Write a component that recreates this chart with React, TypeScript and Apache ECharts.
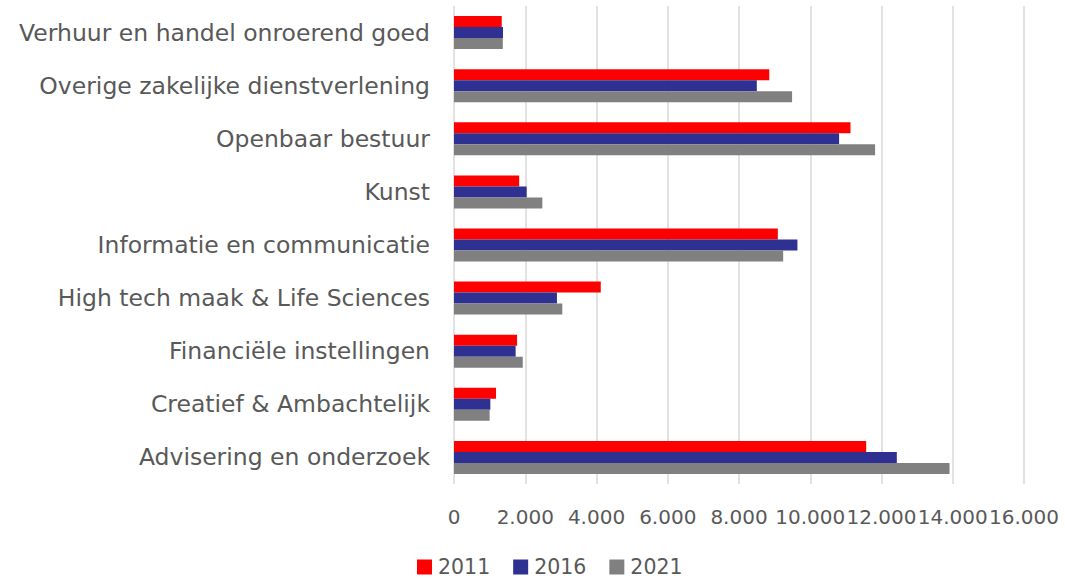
import React, { useEffect, useRef } from "react";
import * as echarts from "echarts";

const categories = [
  "Verhuur en handel onroerend goed",
  "Overige zakelijke dienstverlening",
  "Openbaar bestuur",
  "Kunst",
  "Informatie en communicatie",
  "High tech maak & Life Sciences",
  "Financiële instellingen",
  "Creatief & Ambachtelijk",
  "Advisering en onderzoek",
];

const seriesNames = ["2011", "2016", "2021"];
const values2011 = [1340, 8850, 11130, 1830, 9090, 4120, 1770, 1180, 11570];
const values2016 = [1375, 8500, 10810, 2040, 9640, 2890, 1730, 1020, 12430];
const values2021 = [1370, 9490, 11820, 2480, 9240, 3040, 1930, 1000, 13910];
const colors = ["#FF0000", "#2E3192", "#808080"];

const FONT = "DejaVu Sans";

function fmt(v: number): string {
  return String(Math.round(v)).replace(/\B(?=(\d{3})+(?!\d))/g, ".");
}

export default function App() {
  const ref = useRef<HTMLDivElement>(null);
  useEffect(() => {
    document.body.style.margin = "0";
    const chart = echarts.init(ref.current!, undefined, { renderer: "svg" });
    const data = [values2011, values2016, values2021];
    chart.setOption({
      animation: false,
      backgroundColor: "#ffffff",
      textStyle: { fontFamily: FONT },
      grid: { left: 454, right: 41, top: 6, bottom: 97, containLabel: false },
      legend: {
        top: 556,
        left: 417,
        padding: 0,
        itemWidth: 15,
        itemHeight: 15,
        itemGap: 23,
        icon: "rect",
        textStyle: { fontFamily: FONT, fontSize: 20.5, lineHeight: 22, color: "#595959", padding: [0, 0, 0, 1] },
        data: seriesNames,
      },
      xAxis: {
        type: "value",
        min: 0,
        max: 16000,
        interval: 2000,
        axisLine: { show: false },
        axisTick: { show: false },
        splitLine: { show: true, lineStyle: { color: "#d9d9d9", width: 1.5 } },
        axisLabel: {
          margin: 23,
          fontFamily: FONT,
          fontSize: 20,
          color: "#595959",
          formatter: (v: number) => fmt(v),
        },
      },
      yAxis: {
        type: "category",
        inverse: true,
        data: categories,
        axisLine: { show: false },
        axisTick: { show: false },
        axisLabel: { margin: 24, fontFamily: FONT, fontSize: 23.5, color: "#595959" },
      },
      series: seriesNames.map((name, i) => ({
        name,
        type: "bar",
        data: data[i],
        barWidth: 11,
        barGap: "0%",
        itemStyle: { color: colors[i] },
      })),
    });
    return () => chart.dispose();
  }, []);
  return <div ref={ref} style={{ width: 1065, height: 581 }} />;
}
